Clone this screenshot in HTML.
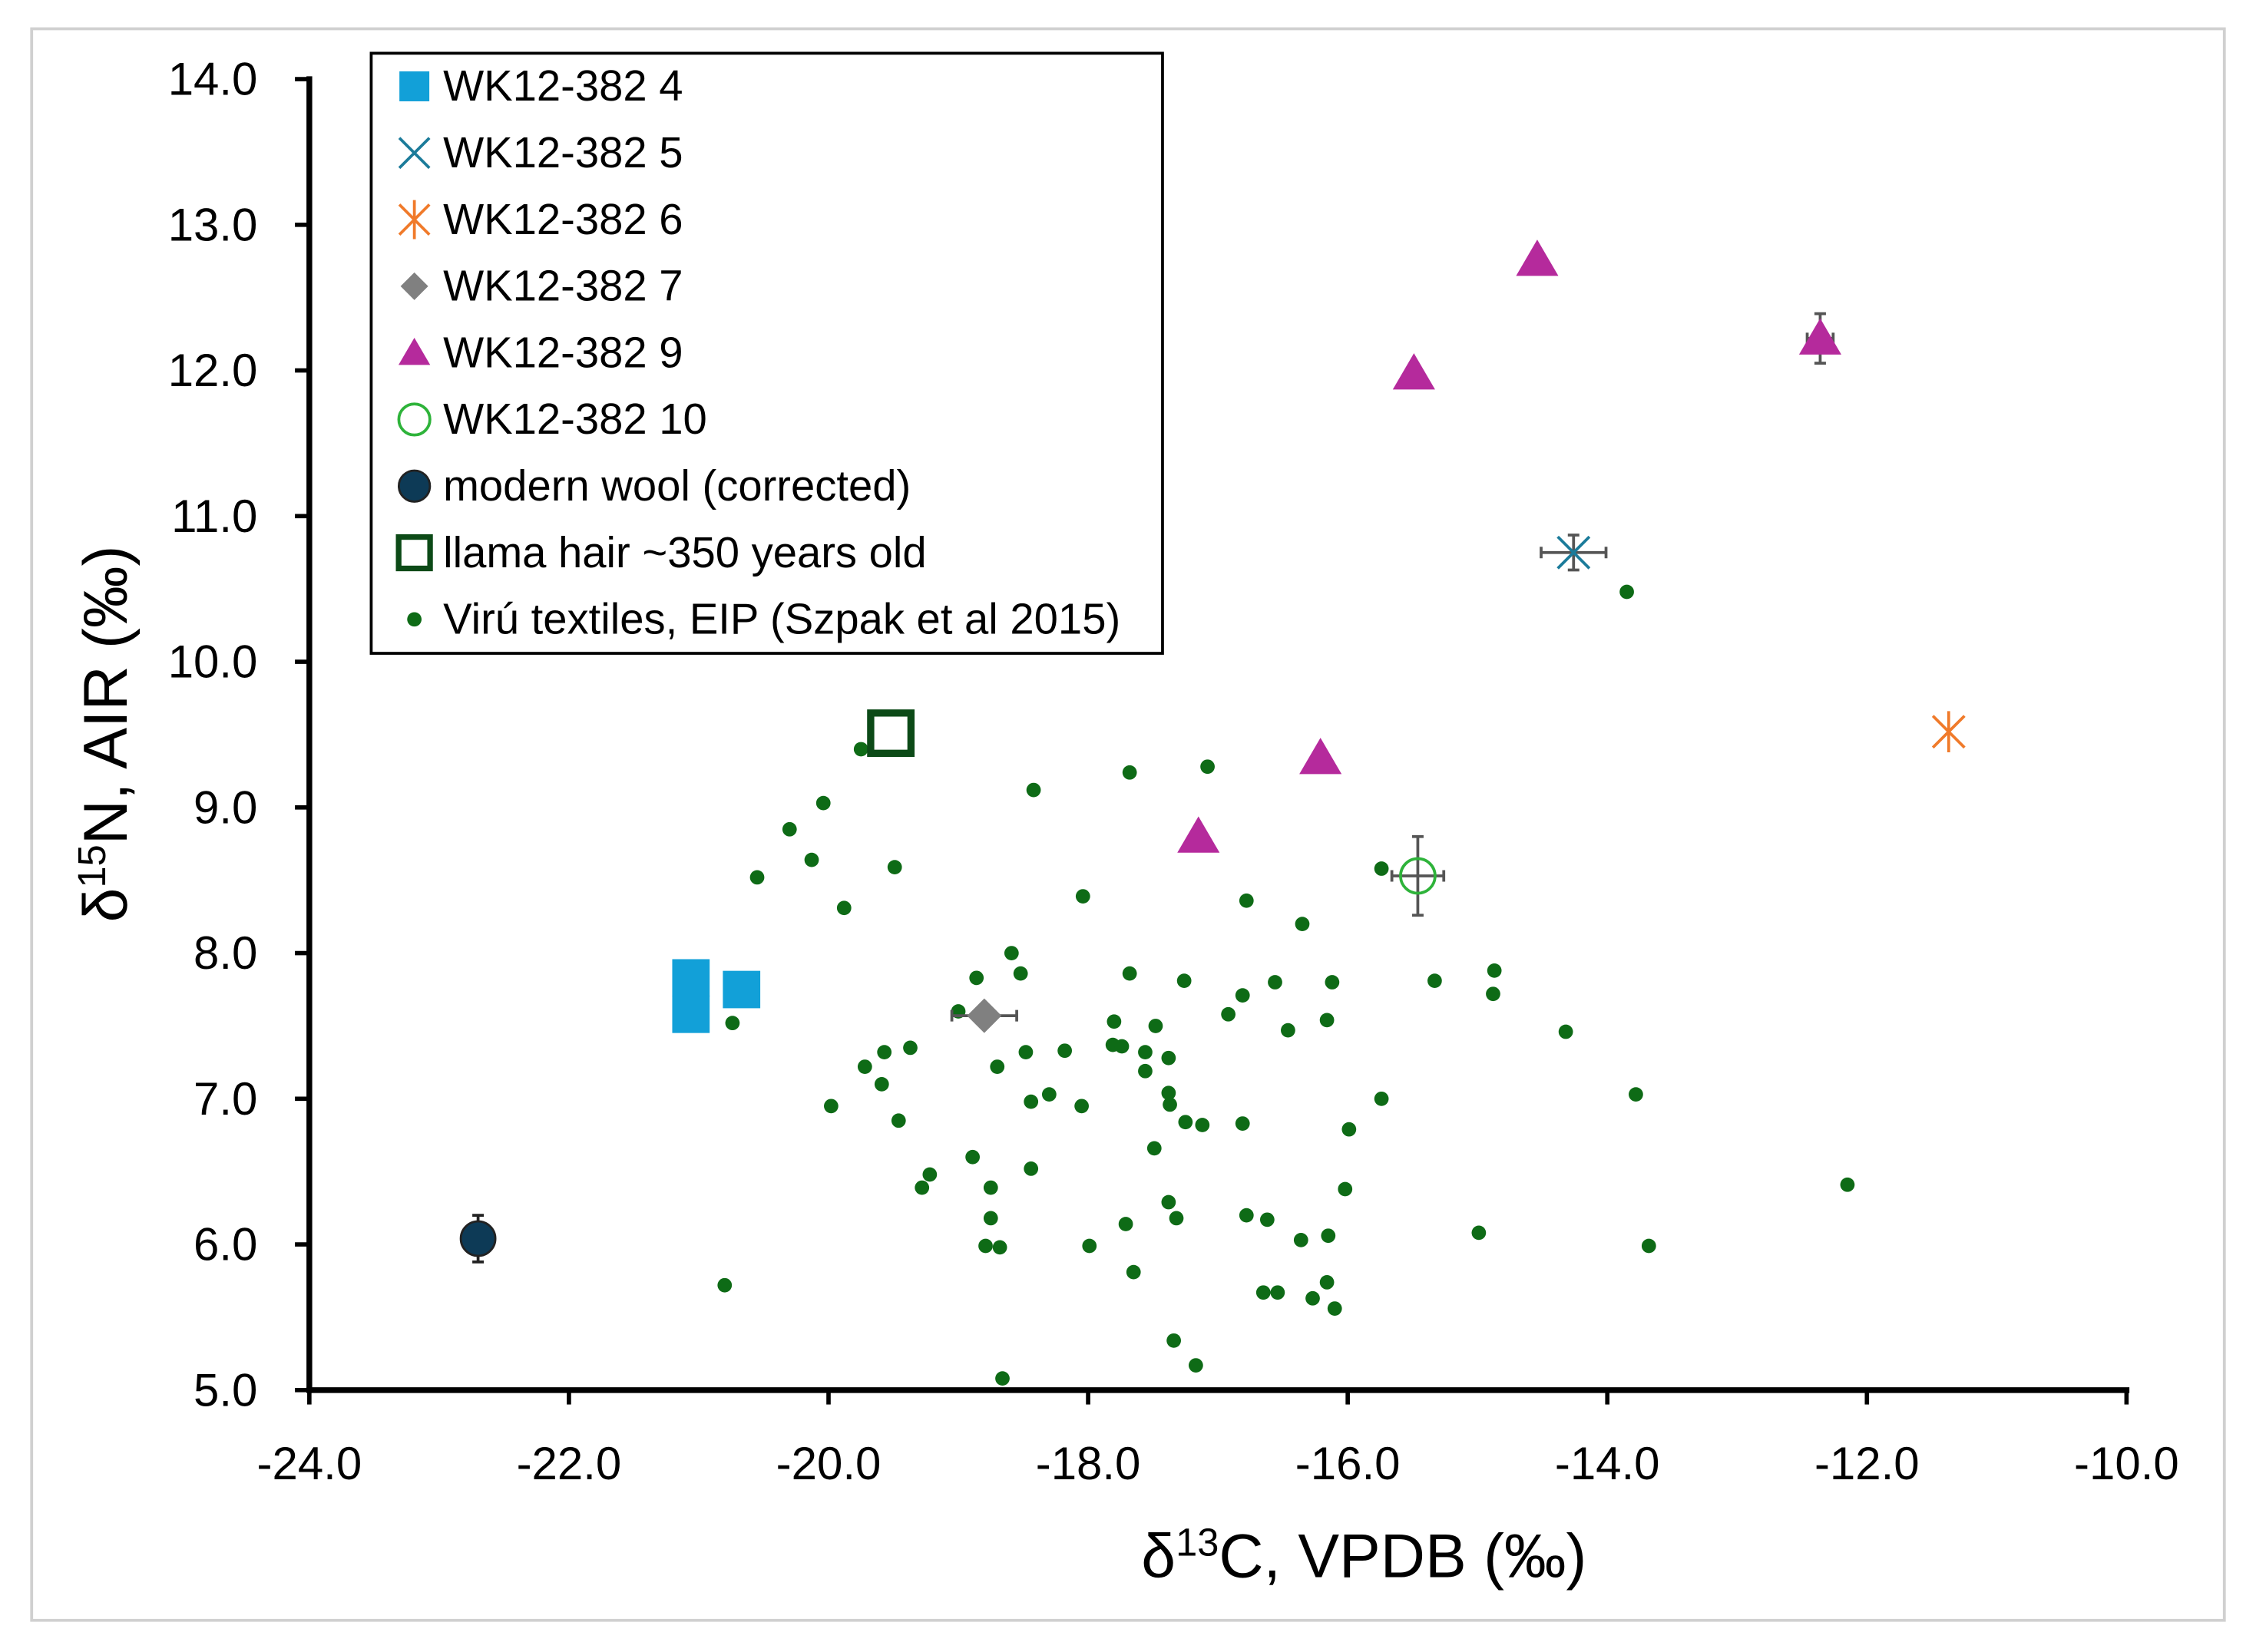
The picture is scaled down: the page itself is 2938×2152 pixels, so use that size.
<!DOCTYPE html>
<html><head><meta charset="utf-8"><style>html,body{margin:0;padding:0;background:#fff}svg{display:block}</style></head>
<body>
<svg id="chart" width="2938" height="2152" viewBox="0 0 1568 1148" preserveAspectRatio="none" xmlns="http://www.w3.org/2000/svg" font-family="Liberation Sans, sans-serif">
<rect x="22" y="20" width="1524" height="1106" fill="#fff" stroke="#d0d0d0" stroke-width="2"/>
<g id="grid"></g>
<g id="marks"></g>
<g id="axes"></g>
<text x="948" y="1096" font-size="43" text-anchor="middle">δ<tspan font-size="27" dy="-15">13</tspan><tspan dy="15">C, VPDB (‰)</tspan></text>
<text transform="translate(88,510) rotate(-90)" font-size="43" text-anchor="middle">δ<tspan font-size="27" dy="-15">15</tspan><tspan dy="15">N, AIR (‰)</tspan></text>
<g id="legend"></g>
</svg>
<script>
const viruX=[-13.85,-17.08,-17.68,-18.42,-20.04,-20.30,-20.13,-20.55,-19.49,-19.88,-18.04,-16.78,-15.74,-16.35,-18.59,-18.86,-18.52,-17.68,-17.26,-16.81,-16.56,-16.92,-16.12,-16.46,-16.16,-15.33,-14.87,-14.88,-14.32,-19.00,-20.74,-17.80,-17.48,-17.81,-17.74,-17.56,-17.38,-18.18,-18.48,-19.37,-19.57,-19.72,-19.59,-18.70,-17.56,-17.38,-17.37,-18.30,-18.44,-18.05,-19.98,-19.46,-17.25,-17.12,-16.81,-15.99,-15.74,-13.78,-17.49,-18.44,-19.22,-19.28,-18.89,-18.75,-17.38,-16.78,-16.62,-17.32,-17.71,-18.75,-16.02,-16.36,-16.15,-14.99,-13.68,-12.15,-18.79,-18.68,-17.99,-17.65,-20.80,-16.16,-16.65,-16.54,-16.27,-16.10,-17.34,-17.17,-18.66,-19.75];
const viruY=[10.48,9.28,9.24,9.12,9.03,8.85,8.64,8.52,8.59,8.31,8.39,8.36,8.58,8.20,8.00,7.83,7.86,7.86,7.81,7.71,7.80,7.58,7.80,7.47,7.54,7.81,7.88,7.72,7.46,7.60,7.52,7.53,7.50,7.37,7.36,7.32,7.28,7.33,7.32,7.35,7.32,7.22,7.10,7.22,7.19,7.04,6.96,7.03,6.98,6.95,6.95,6.85,6.84,6.82,6.83,6.79,7.00,7.03,6.66,6.52,6.48,6.39,6.60,6.39,6.29,6.20,6.17,6.18,6.14,6.18,6.38,6.03,6.06,6.08,5.99,6.41,5.99,5.98,5.99,5.81,5.72,5.74,5.67,5.67,5.63,5.56,5.34,5.17,5.08,9.40];
const wk4X=[-21.06,-21.06,-20.67], wk4Y=[7.83,7.58,7.75];
const wk5X=[-14.26], wk5Y=[10.75];
const wk6X=[-11.37], wk6Y=[9.52];
const wk7X=[-18.80], wk7Y=[7.57];
const wk9X=[-14.54,-15.49,-12.36,-16.21,-17.15], wk9Y=[12.76,11.98,12.22,9.34,8.80];
const wk10X=[-15.46], wk10Y=[8.53];
const woolX=[-22.70], woolY=[6.04];
const llamaX=[-19.52], llamaY=[9.51];
const xTicks=[-24,-22,-20,-18,-16,-14,-12,-10];
const yTicks=[5,6,7,8,9,10,11,12,13,14];
const X0=215,X1=1478,Y0=966,Y1=55;
const sx=v=>X0+(v+24)/14*(X1-X0);
const sy=v=>Y0-(v-5)/9*(Y0-Y1);
const NS='http://www.w3.org/2000/svg';
function mk(tag,attrs,parent){const e=document.createElementNS(NS,tag);for(const k in attrs)e.setAttribute(k,attrs[k]);parent.appendChild(e);return e;}
const marks=document.getElementById('marks'),axes=document.getElementById('axes'),leg=document.getElementById('legend');
function errbar(cx,cy,ex,ey,col){
  if(ex){const l=mk('path',{d:`M${sx(cx-ex)},${sy(cy)}H${sx(cx+ex)}M${sx(cx-ex)},${sy(cy)-4}v8M${sx(cx+ex)},${sy(cy)-4}v8`,stroke:col,'stroke-width':2,fill:'none'},marks);
    
    }
  if(ey){const l=mk('path',{d:`M${sx(cx)},${sy(cy-ey)}V${sy(cy+ey)}M${sx(cx)-4},${sy(cy-ey)}h8M${sx(cx)-4},${sy(cy+ey)}h8`,stroke:col,'stroke-width':2,fill:'none'},marks);
    
    }
}
function sym(type,x,y,s){
  s=s||1;
  let e;
  if(type==='dot'){e=mk('circle',{cx:x,cy:y,r:5*s,fill:'#0e6b16'},marks);}
  else if(type==='sq'){e=mk('rect',{x:x-13*s,y:y-13*s,width:26*s,height:26*s,fill:'#12a0d8'},marks);}
  else if(type==='x'){const d=11*s;e=mk('path',{d:`M${x-d},${y-d}L${x+d},${y+d}M${x-d},${y+d}L${x+d},${y-d}`,stroke:'#1b7b9a','stroke-width':2,fill:'none'},marks);}
  else if(type==='ast'){const d=11*s;e=mk('path',{d:`M${x-d},${y-d}L${x+d},${y+d}M${x-d},${y+d}L${x+d},${y-d}M${x},${y-d*1.3}V${y+d*1.3}`,stroke:'#f07a2a','stroke-width':2,fill:'none'},marks);}
  else if(type==='dia'){const d=12*s;e=mk('path',{d:`M${x},${y-d}L${x+d},${y}L${x},${y+d}L${x-d},${y}Z`,fill:'#808080'},marks);}
  else if(type==='tri'){const d=14*s;e=mk('path',{d:`M${x},${y-d}L${x+d*1.05},${y+d*0.8}L${x-d*1.05},${y+d*0.8}Z`,fill:'#b52a9c'},marks);}
  else if(type==='oc'){e=mk('circle',{cx:x,cy:y,r:12*s,fill:'none',stroke:'#2eb33a','stroke-width':2},marks);}
  else if(type==='wool'){e=mk('circle',{cx:x,cy:y,r:12*s,fill:'#0d3a56',stroke:'#222','stroke-width':1.5},marks);}
  else if(type==='llama'){const d=14*s;e=mk('rect',{x:x-d,y:y-d,width:2*d,height:2*d,fill:'none',stroke:'#0c4a17','stroke-width':5*s},marks);}
  return e;
}
const yax=mk('line',{x1:X0,y1:Y1-2,x2:X0,y2:Y0+2,stroke:'#000','stroke-width':4},axes);


const xax=mk('line',{x1:X0-2,y1:Y0,x2:X1+2,y2:Y0,stroke:'#000','stroke-width':4},axes);


xTicks.forEach(v=>{
  const t=mk('line',{x1:sx(v),y1:Y0,x2:sx(v),y2:Y0+10,stroke:'#000','stroke-width':3},axes);
  
  
  const l=mk('text',{x:sx(v),y:Y0+62,'font-size':32,'text-anchor':'middle'},axes);l.textContent=v.toFixed(1);
  
  
});
yTicks.forEach(v=>{
  const t=mk('line',{x1:X0-10,y1:sy(v),x2:X0,y2:sy(v),stroke:'#000','stroke-width':3},axes);
  
  
  const l=mk('text',{x:X0-36,y:sy(v)+11,'font-size':32,'text-anchor':'end'},axes);l.textContent=v.toFixed(1);
  
  
});
viruX.forEach((v,i)=>{const e=sym('dot',sx(v),sy(viruY[i]));
  
  });
wk4X.forEach((v,i)=>{const e=sym('sq',sx(v),sy(wk4Y[i]));
  
  });
errbar(wk5X[0],wk5Y[0],0.25,0.12,'#555');
wk5X.forEach((v,i)=>{const e=sym('x',sx(v),sy(wk5Y[i]));
  
  });
wk6X.forEach((v,i)=>{const e=sym('ast',sx(v),sy(wk6Y[i]));
  
  });
errbar(wk7X[0],wk7Y[0],0.25,0,'#555');
wk7X.forEach((v,i)=>{const e=sym('dia',sx(v),sy(wk7Y[i]));
  
  });
errbar(wk9X[2],wk9Y[2],0.1,0.17,'#555');
wk9X.forEach((v,i)=>{const e=sym('tri',sx(v),sy(wk9Y[i]));
  
  });
errbar(wk10X[0],wk10Y[0],0.2,0.27,'#555');
wk10X.forEach((v,i)=>{const e=sym('oc',sx(v),sy(wk10Y[i]));
  
  });
errbar(woolX[0],woolY[0],0,0.16,'#222');
woolX.forEach((v,i)=>{const e=sym('wool',sx(v),sy(woolY[i]));
  
  });
llamaX.forEach((v,i)=>{const e=sym('llama',sx(v),sy(llamaY[i]));
  
  });
const box=mk('rect',{x:258,y:37,width:550,height:417,fill:'#fff',stroke:'#000','stroke-width':2},leg);


const legTypes=['sq','x','ast','dia','tri','oc','wool','llama','dot'];
const legLabels=['WK12-382 4','WK12-382 5','WK12-382 6','WK12-382 7','WK12-382 9','WK12-382 10','modern wool (corrected)','llama hair ~350 years old','Virú textiles, EIP (Szpak et al 2015)'];
const legScale=[0.8,0.95,0.95,0.8,0.75,0.9,0.9,0.78,1];
legLabels.forEach((lab,i)=>{
  const y=60+i*46.3;
  const s=sym(legTypes[i],288,y,legScale[i]);
  leg.appendChild(s);
  
  
  const t=mk('text',{x:308,y:y+10,'font-size':30},leg);t.textContent=lab;
  
  
});
</script>
</body></html>
